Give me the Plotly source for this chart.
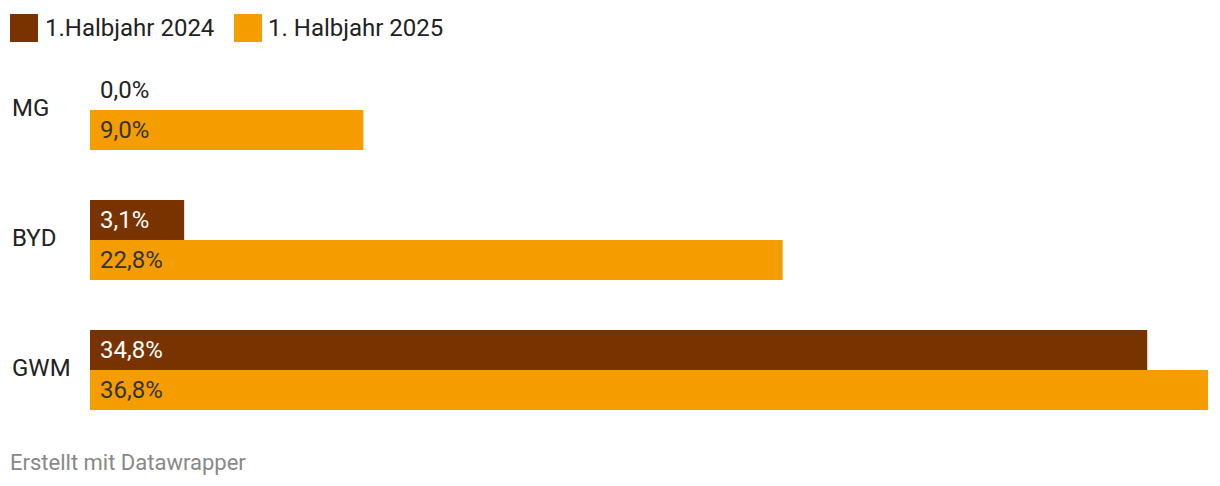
import plotly.graph_objects as go

categories = ["MG", "BYD", "GWM"]
series_names = ["1.Halbjahr 2024", "1. Halbjahr 2025"]
values_2024 = [0.0, 3.1, 34.8]
values_2025 = [9.0, 22.8, 36.8]
labels_2024 = ["0,0%", "3,1%", "34,8%"]
labels_2025 = ["9,0%", "22,8%", "36,8%"]

BROWN = "#793300"
ORANGE = "#f59d00"
FONT = "Roboto, 'Open Sans', sans-serif"

W, H = 1220, 486
L, R, T, B = 90, 12, 45, 51
pw, ph = W - L - R, H - T - B

def px_x(p):
    return (p - L) / pw

def px_y(p):
    return (H - B - p) / ph

fig = go.Figure()
fig.add_trace(go.Bar(y=categories, x=values_2024, orientation="h", name=series_names[0],
                     marker=dict(color=BROWN, line=dict(width=0)), hoverinfo="skip"))
fig.add_trace(go.Bar(y=categories, x=values_2025, orientation="h", name=series_names[1],
                     marker=dict(color=ORANGE, line=dict(width=0)), hoverinfo="skip"))

annotations = []
for cat, v, lab in zip(categories, values_2024, labels_2024):
    annotations.append(dict(x=0, y=cat, xref="x", yref="y", text=lab, showarrow=False,
                            xanchor="left", yanchor="middle", xshift=8, yshift=20,
                            font=dict(family=FONT, size=24, color="#ffffff" if v > 0 else "#222222")))
for cat, v, lab in zip(categories, values_2025, labels_2025):
    annotations.append(dict(x=0, y=cat, xref="x", yref="y", text=lab, showarrow=False,
                            xanchor="left", yanchor="middle", xshift=8, yshift=-20,
                            font=dict(family=FONT, size=24, color="#333333")))
for cat in categories:
    annotations.append(dict(x=px_x(10), y=cat, xref="paper", yref="y", text=cat, showarrow=False,
                            xanchor="left", yanchor="middle", yshift=2,
                            font=dict(family=FONT, size=24, color="#222222")))

# legend (manual)
shapes = []
leg = [(10, 43, BROWN, series_names[0]), (234, 266, ORANGE, series_names[1])]
for sx, tx, col, name in leg:
    shapes.append(dict(type="rect", xref="paper", yref="paper",
                       x0=px_x(sx), x1=px_x(sx + 28), y0=px_y(42), y1=px_y(14),
                       fillcolor=col, line=dict(width=0)))
    annotations.append(dict(x=px_x(tx), y=px_y(28), xref="paper", yref="paper", text=name,
                            showarrow=False, xanchor="left", yanchor="middle",
                            font=dict(family=FONT, size=24, color="#222222")))

annotations.append(dict(x=px_x(8), y=px_y(462), xref="paper", yref="paper",
                        text="Erstellt mit Datawrapper", showarrow=False,
                        xanchor="left", yanchor="middle",
                        font=dict(family=FONT, size=22, color="#888888")))

fig.update_layout(
    width=W, height=H,
    margin=dict(l=L, r=R, t=T, b=B),
    paper_bgcolor="white", plot_bgcolor="white",
    barmode="group", bargap=50 / 130, bargroupgap=0,
    showlegend=False,
    xaxis=dict(range=[0, 36.8], visible=False, fixedrange=True),
    yaxis=dict(autorange="reversed", visible=False, fixedrange=True),
    annotations=annotations, shapes=shapes,
)

fig.write_html("out.html", config={"displayModeBar": False},
               post_script="document.body.style.margin='0';document.body.style.overflow='hidden';")
